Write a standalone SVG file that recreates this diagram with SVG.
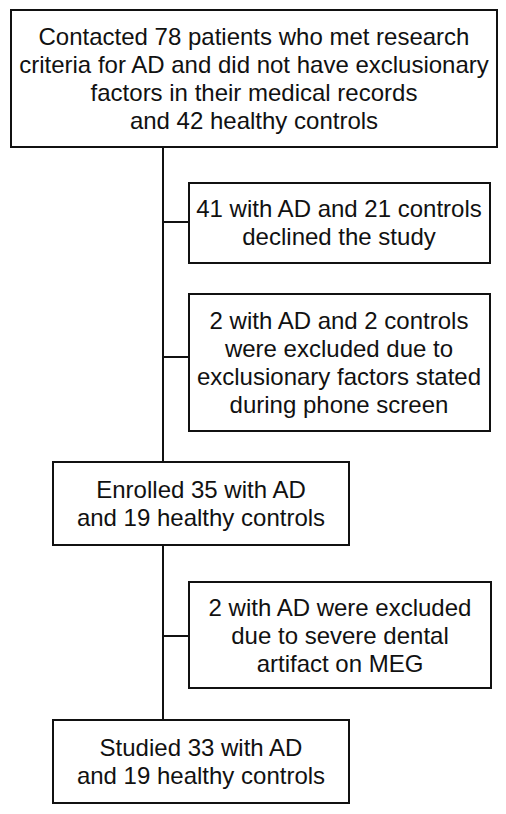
<svg xmlns="http://www.w3.org/2000/svg" width="506" height="814" viewBox="0 0 506 814">
<style>
.box{fill:#fff;stroke:#111;stroke-width:2}
.t{font-family:"Liberation Sans",Arial,sans-serif;font-size:24px;fill:#111;text-anchor:middle}
.c{stroke:#111;stroke-width:2;fill:none}
</style>
<rect width="506" height="814" fill="#fff"/>
<g id="connectors">
<line class="c" x1="163" y1="147" x2="163" y2="462"/>
<line class="c" x1="163" y1="545" x2="163" y2="720"/>
<line class="c" x1="163" y1="222" x2="189" y2="222"/>
<line class="c" x1="163" y1="357" x2="189" y2="357"/>
<line class="c" x1="163" y1="636" x2="189" y2="636"/>
</g>
<g id="contacted">
<rect class="box" x="11" y="10" width="486" height="137"/>
<text class="t" x="254" y="45">Contacted 78 patients who met research</text>
<text class="t" x="254" y="73">criteria for AD and did not have exclusionary</text>
<text class="t" x="254" y="101">factors in their medical records</text>
<text class="t" x="254" y="129">and 42 healthy controls</text>
</g>
<g id="declined">
<rect class="box" x="189" y="183" width="301" height="80"/>
<text class="t" x="339" y="217">41 with AD and 21 controls</text>
<text class="t" x="339" y="245">declined the study</text>
</g>
<g id="excluded-phone">
<rect class="box" x="189" y="294" width="301" height="137"/>
<text class="t" x="339" y="329">2 with AD and 2 controls</text>
<text class="t" x="339" y="357">were excluded due to</text>
<text class="t" x="339" y="385">exclusionary factors stated</text>
<text class="t" x="339" y="413">during phone screen</text>
</g>
<g id="enrolled">
<rect class="box" x="53" y="462" width="296" height="83"/>
<text class="t" x="201" y="498">Enrolled 35 with AD</text>
<text class="t" x="201" y="526">and 19 healthy controls</text>
</g>
<g id="excluded-meg">
<rect class="box" x="189" y="582" width="302" height="106"/>
<text class="t" x="340" y="616">2 with AD were excluded</text>
<text class="t" x="340" y="644">due to severe dental</text>
<text class="t" x="340" y="672">artifact on MEG</text>
</g>
<g id="studied">
<rect class="box" x="53" y="720" width="296" height="83"/>
<text class="t" x="201" y="756">Studied 33 with AD</text>
<text class="t" x="201" y="784">and 19 healthy controls</text>
</g>
</svg>
